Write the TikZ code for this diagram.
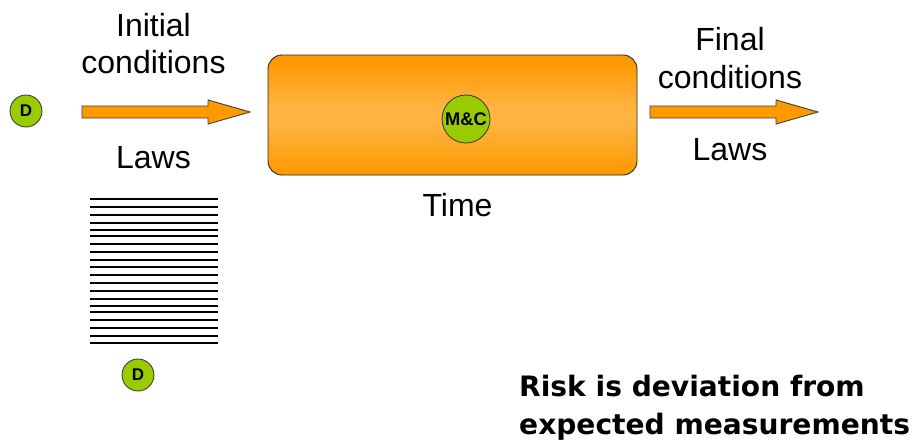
\documentclass[tikz,border=0pt]{standalone}
\usepackage{fontspec}
\setmainfont{Liberation Sans}
\newfontfamily\riskfont{DejaVu Sans}
\definecolor{dotgreen}{HTML}{99CC00}
\definecolor{arroworange}{HTML}{FF9900}
\definecolor{midorange}{HTML}{FFB340}
\pgfdeclareverticalshading{boxshade}{100bp}{color(0bp)=(arroworange); color(26bp)=(arroworange); color(46bp)=(midorange); color(54bp)=(midorange); color(72bp)=(arroworange); color(100bp)=(arroworange)}
\tikzset{
  x=1pt,y=-1pt,
  label text/.style={anchor=base,inner sep=0pt,font=\fontsize{32}{36}\selectfont,text=black},
  risk text/.style={anchor=base west,inner sep=0pt,font=\riskfont\bfseries\fontsize{28.1}{32}\selectfont,text=black},
  dot/.style={circle,draw=black!80,line width=0.8pt,fill=dotgreen,inner sep=0pt,minimum size=32pt,font=\bfseries\fontsize{17}{19}\selectfont,text=black},
  bigdot/.style={dot,minimum size=48pt,font=\bfseries\fontsize{18.3}{20}\selectfont},
  block arrow/.style={draw=black!75,line width=0.9pt,fill=arroworange,line join=miter},
  law line/.style={draw=black,line width=1.6pt},
}
\begin{document}
\begin{tikzpicture}
\useasboundingbox (0,0) rectangle (914,445);
% process box
\node[draw=black!85,line width=0.9pt,rounded corners=14pt,minimum width=369pt,minimum height=120pt,
  inner sep=0pt,shading=boxshade] (box) at (452.5,115) {};
\node[bigdot] (mc) at (466,119) {M\&C};
% dots
\node[dot] (d1) at (26,111) {D};
\node[dot] (d2) at (138,375) {D};
% block arrows
\draw[block arrow] (82,106) -- (208,106) -- (208,100) -- (250,112) -- (208,124) -- (208,118) -- (82,118) -- cycle;
\draw[block arrow] (650,106) -- (776,106) -- (776,100) -- (818,112) -- (776,124) -- (776,118) -- (650,118) -- cycle;
% law lines
\foreach \ly in {199,207,215,223,230,236,244,252,260,267,275,283,291,299,306,312,320,328,336,343}
  \draw[law line] (90,\ly) -- (218,\ly);
% labels
\node[label text] (t1) at (153.5,36) {Initial};
\node[label text] (t2) at (153.5,73) {conditions};
\node[label text] (t3) at (153.5,168) {Laws};
\node[label text] (t4) at (730,50) {Final};
\node[label text] (t5) at (730,88) {conditions};
\node[label text] (t6) at (730,160) {Laws};
\node[label text] (t7) at (457.5,216) {Time};
\node[risk text] (r1) at (519,396) {Risk is deviation from};
\node[risk text] (r2) at (519,434) {expected measurements};
\end{tikzpicture}
\end{document}
